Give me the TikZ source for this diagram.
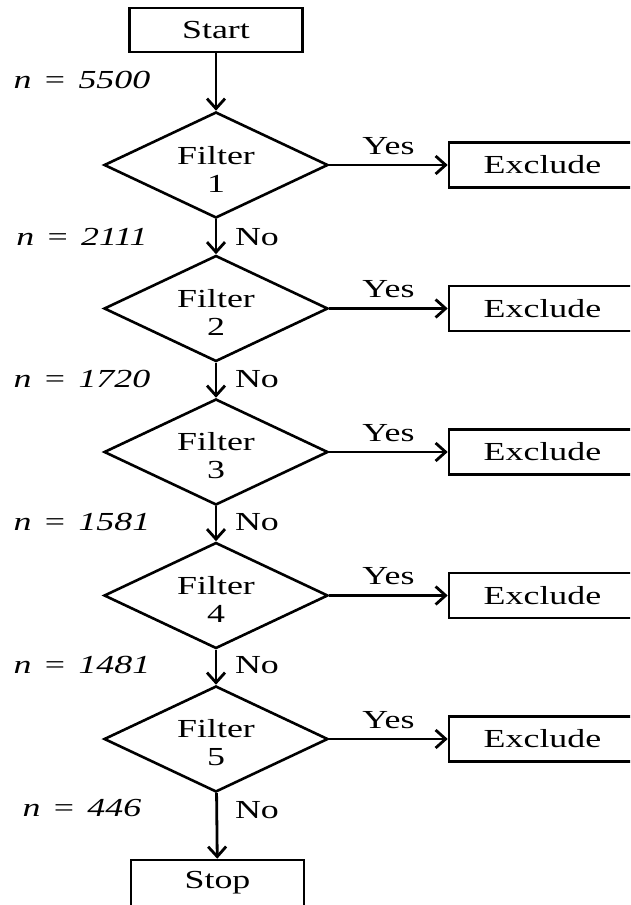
\documentclass[tikz,border=0pt]{standalone}
\usepackage{fontspec}
\setmainfont[FakeStretch=1.38]{Liberation Serif}
\usetikzlibrary{shapes.geometric,arrows.meta}
\begin{document}
\begin{tikzpicture}[x=1pt,y=-1pt,
  every node/.style={font=\fontsize{26}{28}\selectfont},
  term/.style={draw,line width=2.6pt,rectangle,minimum width=173pt,minimum height=44pt,inner sep=0pt},
  exbox/.style={draw,line width=2.6pt,rectangle,minimum width=187pt,minimum height=45pt,inner sep=0pt},
  filt/.style={draw,line width=2.6pt,diamond,minimum width=224pt,minimum height=106pt,inner sep=0pt},
  ftxt/.style={inner sep=0pt,align=center},
  conn/.style={line width=2.8pt,-{Straight Barb[length=10pt,width=18pt,line width=2.8pt]}},
  lbl/.style={inner sep=0pt,anchor=center},
  ]
\clip (0,0) rectangle (630,905);
\node[term] (start) at (216,30) {Start};
\foreach \i/\y in {1/165,2/308.5,3/452,4/595.5,5/739}{
  \node[filt] (d\i) at (216,\y) {};
  \node[ftxt] (t\i) at (216,\y+4) {Filter\\\i};
  \node[exbox] (e\i) at (542.5,\y) {Exclude};
  \draw[conn] (d\i.east) -- node[lbl,above=9pt] (y\i) {Yes} (e\i.west);
}
\node[term,minimum height=46pt] (stop) at (217.5,883) {Stop};
\draw[conn] (start) -- (d1);
\draw[conn] (d1) -- (d2);
\draw[conn] (d2) -- (d3);
\draw[conn] (d3) -- (d4);
\draw[conn] (d4) -- (d5);
\draw[conn] (d5) -- (stop);
\foreach \y/\v in {80/5500,237/2111,379/1720,522/1581,665/1481,808/446}{
  \node[lbl] (n\v) at (82,\y) {\textit{n}\, = \,\textit{\v}};
}
\foreach \y/\k in {237/1,379/2,522/3,665/4,810/5}{
  \node[lbl] (no\k) at (257,\y) {No};
}
\end{tikzpicture}
\end{document}
